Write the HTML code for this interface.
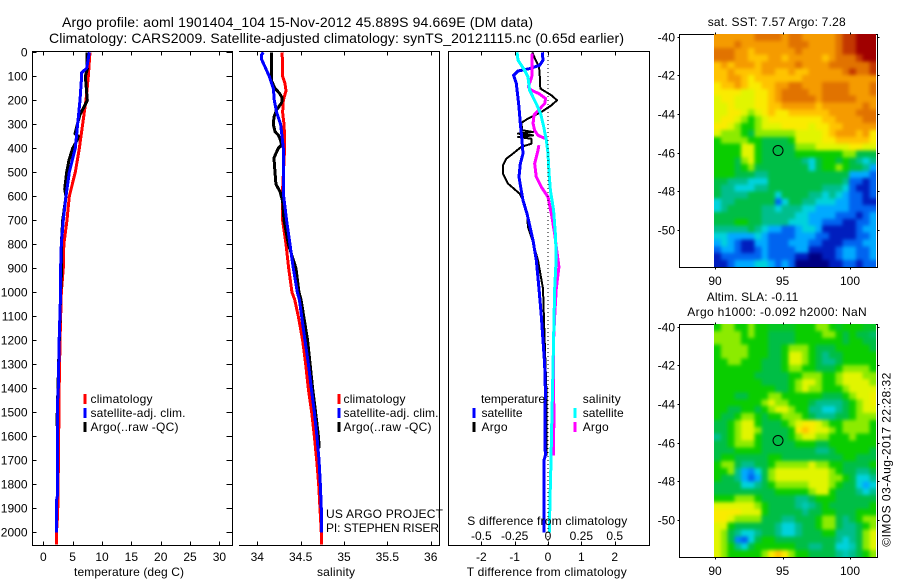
<!DOCTYPE html>
<html lang="en">
<head>
<meta charset="utf-8">
<title>Argo profile chart</title>
<style>
html,body{margin:0;padding:0;background:#fff;}
svg{display:block;font-family:"Liberation Sans",sans-serif;font-size:12px;fill:#000;}
.axis{fill:none;stroke:#000;stroke-width:1;shape-rendering:crispEdges;}
.ttl{font-size:14px;}
</style>
</head>
<body>
<svg id="chart" width="900" height="580" viewBox="0 0 900 580" xmlns="http://www.w3.org/2000/svg">
<defs>
<filter id="smooth" filterUnits="userSpaceOnUse" x="690" y="0" width="210" height="580" color-interpolation-filters="sRGB"><feGaussianBlur stdDeviation="1.9"/></filter>
<clipPath id="clip-m1"><rect x="714" y="34" width="162" height="233"/></clipPath>
<clipPath id="clip-m2"><rect x="714" y="324" width="162" height="233"/></clipPath>
</defs>
<text class="ttl" x="62" y="27" textLength="471">Argo profile: aoml 1901404_104 15-Nov-2012 45.889S 94.669E (DM data)</text>
<text class="ttl" x="49" y="43" textLength="575">Climatology: CARS2009. Satellite-adjusted climatology: synTS_20121115.nc (0.65d earlier)</text>

<g id="p1"></g>
<g id="p2"></g>
<g id="p3"></g>
<g id="m1"></g>
<g id="m2"></g>

<text x="74" y="576" textLength="110">temperature (deg C)</text>
<text x="317" y="576" textLength="38">salinity</text>
<text x="466.7" y="576" textLength="160">T difference from climatology</text>
<text x="467.3" y="525" textLength="160">S difference from climatology</text>

<g>
<rect x="83.5" y="394" width="3" height="10" fill="#f00"/>
<text x="90.5" y="403" textLength="62">climatology</text>
<rect x="83.5" y="408" width="3" height="10" fill="#00f"/>
<text x="90.5" y="417" textLength="95">satellite-adj. clim.</text>
<rect x="83.5" y="422" width="3" height="10" fill="#000"/>
<text x="90.5" y="431" textLength="88">Argo(..raw -QC)</text>
</g>
<g>
<rect x="337.5" y="394" width="3" height="10" fill="#f00"/>
<text x="343.5" y="403" textLength="62">climatology</text>
<rect x="337.5" y="408" width="3" height="10" fill="#00f"/>
<text x="343.5" y="417" textLength="95">satellite-adj. clim.</text>
<rect x="337.5" y="422" width="3" height="10" fill="#000"/>
<text x="343.5" y="431" textLength="88">Argo(..raw -QC)</text>
</g>
<g>
<text x="481" y="403" textLength="64">temperature</text>
<rect x="472.5" y="408" width="3" height="10" fill="#00f"/>
<text x="481.5" y="417" textLength="41">satellite</text>
<rect x="472.5" y="422" width="3" height="10" fill="#000"/>
<text x="481.5" y="431" textLength="26">Argo</text>
<text x="582.7" y="403" textLength="38">salinity</text>
<rect x="573.5" y="408" width="3" height="10" fill="#0ff"/>
<text x="582.7" y="417" textLength="41">satellite</text>
<rect x="573.5" y="422" width="3" height="10" fill="#f0f"/>
<text x="582.7" y="431" textLength="26">Argo</text>
</g>
<text x="326" y="518" textLength="117">US ARGO PROJECT</text>
<text x="326" y="532" textLength="113">PI: STEPHEN RISER</text>

<text x="707.7" y="26" textLength="138">sat. SST: 7.57 Argo: 7.28</text>
<text x="706.7" y="301" textLength="91.6">Altim. SLA: -0.11</text>
<text x="687.3" y="316" textLength="179.4">Argo h1000: -0.092 h2000: NaN</text>
<text transform="translate(890.7,546.7) rotate(-90)" textLength="174">©IMOS 03-Aug-2017 22:28:32</text>
</svg>

<script>
const depthTicks = [0,100,200,300,400,500,600,700,800,900,1000,1100,1200,1300,1400,1500,1600,1700,1800,1900,2000];
const tempTicks = [0,5,10,15,20,25,30];
const salTicks = [34,34.5,35,35.5,36];
const tDiffTicks = [-2,-1,0,1,2];
const tDiffTickLabels = ['-2','-1','0','1','2'];
const sDiffTicks = [-0.5,-0.25,0,0.25,0.5];
const sDiffTickLabels = ['-0.5','-0.25','0','0.25','0.5'];
const lonTicks = [90,95,100];
const latTicks = [-40,-42,-44,-46,-48,-50];

const tempClimDepth = [0,100,200,300,400,500,600,700,800,900,1000,1200,1400,1650,1850,1930,2000,2050];
const tempClim = [7.95,7.67,7.27,6.7,6.14,5.45,4.43,4.03,3.5,3.4,3.07,2.85,2.7,2.6,2.5,2.44,2.24,2.24];
const tempSatDepth = [0,66,85,100,200,300,400,500,600,700,800,900,1000,1200,1400,1450,1850,1870,2000];
const tempSat = [7.84,7.39,6.53,6.53,6.25,5.85,5.45,4.43,3.86,3.4,3.07,2.95,2.95,2.7,2.55,2.45,2.38,2.24,2.24];
const tempArgoDepth = [0,50,70,100,200,220,260,300,340,350,365,400,450,500,570,600,700,800,900,1000,1200,1400,1550,1560,1680];
const tempArgo = [7.44,7.44,7.5,7.16,7.5,7.1,6.25,5.8,5.4,5.97,5.8,5.0,4.37,3.98,3.64,3.86,3.3,3.07,3.13,2.95,2.72,2.5,2.32,2.42,2.42];

const salClimDepth = [0,50,100,130,160,200,250,300,350,400,570,700,800,900,1000,1030,1100,1200,1300,1400,1500,1600,1700,1800,1900,2000,2050];
const salClim = [34.285,34.292,34.292,34.319,34.331,34.3,34.292,34.308,34.315,34.315,34.292,34.292,34.331,34.362,34.4,34.431,34.473,34.523,34.558,34.588,34.627,34.658,34.685,34.708,34.723,34.738,34.738];
const salSatDepth = [0,10,30,60,100,150,200,250,300,350,400,500,600,700,800,900,1000,1030,1200,1300,1400,1500,1600,1700,1800,1900,2000];
const salSat = [34.069,34.05,34.05,34.088,34.138,34.185,34.196,34.223,34.269,34.285,34.3,34.304,34.304,34.338,34.377,34.415,34.462,34.485,34.55,34.59,34.623,34.658,34.688,34.712,34.727,34.738,34.738];
const salArgoDepth = [0,100,120,150,170,190,210,240,270,300,330,345,360,385,400,440,500,550,580,620,700,800,900,1000,1030,1200,1400,1500,1600,1650];
const salArgo = [34.162,34.162,34.165,34.204,34.254,34.288,34.281,34.223,34.192,34.185,34.204,34.242,34.262,34.281,34.242,34.192,34.204,34.215,34.262,34.292,34.308,34.358,34.446,34.481,34.504,34.58,34.638,34.672,34.705,34.715];

const tDiffArgoDepth = [0,33,61,89,151,179,200,221,249,276,294,325,332,339,346,353,360,381,394,422,443,471,506,547,589,631,672,728,783,867,985,1200,1400,1680];
const tDiffArgo = [-0.47,-0.37,-0.27,-0.25,-0.23,0.1,0.27,0.1,-0.2,-0.6,-0.8,-0.77,-0.45,-0.9,-0.45,-0.9,-0.5,-0.5,-0.8,-1.05,-1.25,-1.35,-1.35,-1.2,-0.85,-0.7,-0.63,-0.6,-0.47,-0.3,-0.15,-0.1,-0.05,-0.05];
const tDiffSatDepth = [0,33,54,68,78,96,130,228,297,367,422,464,519,561,617,672,783,867,985,1100,1300,1400,1600,1680,1700,2000];
const tDiffSat = [-0.17,-0.15,-0.25,-0.55,-0.9,-1.03,-0.95,-0.87,-0.83,-0.78,-0.75,-0.83,-0.87,-0.82,-0.75,-0.63,-0.45,-0.35,-0.27,-0.2,-0.1,-0.08,-0.09,-0.08,-0.12,-0.12];
const sDiffArgoDepth = [6,61,103,144,158,172,193,214,235,262,297,325,346,360,361,387,408,464,519,561,603,672,756,811,894,985,1100,1200,1400,1500,1680];
const sDiffArgo = [-0.12,-0.118,-0.122,-0.148,-0.125,-0.068,-0.018,-0.025,-0.062,-0.105,-0.112,-0.1,-0.075,-0.018,null,-0.068,-0.075,-0.1,-0.088,-0.05,0,0.025,0.05,0.062,0.082,0.062,0.05,0.042,0.04,0.045,0.04];
const sDiffSatDepth = [0,33,75,103,158,214,256,311,367,422,506,575,658,756,853,985,1380,1550,1760,1860,2000];
const sDiffSat = [-0.232,-0.225,-0.175,-0.15,-0.138,-0.088,-0.055,-0.032,-0.012,0,0.008,0.018,0.042,0.055,0.062,0.05,0.035,0.028,0.02,0.015,0.01];

const argoLon = 94.669;
const argoLat = -45.889;

const sstGrid = [
[12,12,12,12,12,12,13,13,13,13,12,13,13,12,12,12,12,12,13,14,14,15,15,15],
[12,12,12,13,12,12,12,12,12,12,12,13,13,13,12,12,12,12,13,14,14,15,15,15],
[13,13,13,12,12,11,12,12,12,12,12,12,13,12,12,12,12,12,13,14,14,15,15,15],
[13,13,13,12,12,11,11,11,12,12,11,12,12,12,12,12,11,12,13,13,13,14,15,15],
[11,12,11,12,12,12,11,12,12,12,12,12,13,12,12,12,12,13,13,13,13,13,13,14],
[11,11,12,11,11,11,11,12,12,11,11,12,11,11,12,12,12,12,12,13,14,13,13,14],
[11,11,12,12,11,10,11,11,11,11,11,11,11,12,12,12,12,12,12,12,12,12,12,12],
[10,11,11,12,11,10,10,11,11,12,12,13,13,12,12,12,13,13,13,13,12,12,12,13],
[10,10,10,10,9,9,10,10,11,12,13,13,13,13,12,12,13,13,13,13,12,12,12,13],
[9,10,10,9,9,9,10,10,11,12,13,13,13,13,13,12,13,13,13,13,13,12,12,12],
[9,9,10,9,9,9,10,10,11,11,12,12,12,12,12,11,12,12,12,12,12,12,13,12],
[9,9,10,10,9,8,9,10,11,10,10,11,11,11,11,11,11,12,12,12,12,13,13,13],
[9,10,10,9,8,7,8,9,10,10,10,10,10,10,10,10,11,11,12,12,12,12,13,13],
[10,10,9,8,7,7,8,9,9,9,10,10,10,10,9,10,10,11,11,12,12,12,12,12],
[9,8,8,8,7,6,8,8,8,8,8,8,9,9,9,9,10,11,12,12,12,11,12,10],
[7,8,8,8,8,7,7,6,6,6,6,7,9,9,9,9,10,10,11,11,11,11,11,10],
[7,7,7,7,9,9,7,6,6,6,6,6,8,8,8,9,9,9,9,9,10,10,9,9],
[7,7,7,7,9,9,7,6,6,6,6,6,7,7,7,7,7,7,7,8,8,6,6,6],
[7,7,7,6,8,9,7,6,6,6,6,6,6,5,4,6,7,7,6,7,6,5,4,5],
[7,7,7,6,7,8,6,6,6,6,6,6,6,6,4,6,7,7,8,7,6,6,5,3],
[7,7,7,6,6,6,5,5,6,6,6,6,6,6,6,6,6,6,6,6,3,3,3,2],
[6,6,5,5,5,4,4,4,6,6,6,6,6,6,6,6,6,6,6,5,2,2,1,2],
[6,5,5,4,4,4,5,5,6,6,6,6,6,6,6,6,5,5,5,4,2,1,1,2],
[6,5,5,5,5,6,6,6,6,4,6,6,6,6,5,5,4,5,4,3,2,2,1,2],
[4,5,5,6,6,6,6,6,6,2,4,6,6,5,5,4,4,4,3,3,2,2,1,1],
[4,5,6,6,6,6,6,5,5,4,5,5,5,4,4,3,3,3,3,3,2,2,2,2],
[6,6,6,6,6,6,6,5,5,5,5,5,4,4,3,3,3,3,2,2,2,1,2,3],
[6,6,6,7,7,6,6,5,5,5,5,4,4,4,3,3,2,2,2,1,1,2,2,3],
[5,5,5,5,5,6,5,4,3,3,2,2,3,4,4,3,1,1,1,1,1,2,3,3],
[4,4,3,3,3,3,4,3,2,2,2,2,3,3,3,2,2,1,1,1,1,2,2,3],
[3,4,3,2,1,1,3,3,2,2,2,3,3,3,2,2,1,1,1,2,2,2,3,3],
[2,3,3,2,1,1,2,3,2,2,2,2,3,3,1,1,1,1,2,3,3,2,2,3],
[1,2,2,2,2,2,2,3,2,2,2,2,1,1,0,0,1,1,2,3,3,2,2,3],
[1,1,2,3,3,3,4,4,3,2,3,2,0,0,0,0,0,1,1,2,2,1,2,2]
];

const slaGrid = [
[7,8,8,7,7,8,7,7,6.5,6.5,6.5,6.5,7,7,7,8,8,7,6.5,7,7,7,6.5,6.5],
[8,8,8,8,7,8,7,7,6,6,6,6,7,7,7,7,8,8,7,6,7,6,6,5.5],
[8,8,8,8,7,7,7,7,6,6,6,6,7,7,7,7,7,7,7,6,7,7,6,6],
[7,8,8,8,8,7,7,7,6,6,7,8,8,8,7,6,6,6,7,7,7,7,7,6],
[7,8,8,8,8,7,7,7,6,6,7,9,9,8,7,6,5,6,6,7,7,7,7,7],
[7,7,8,8,7,7,7,6,6,6,7,9,9,8,7,6,5,5,6,7,7,7,7,7],
[7,7,7,7,7,7,7,6,6,6,7,8,8,7,7,6,6,6,7,8,8,8,8,7],
[7,7,7,7,7,7,6,6,6,6,6,7,7,8,8,8,7,7,8,9,9,9,8,8],
[7,7,7,7,7,7,7,6,6,6,6,7,8,9,9,8,7,7,8,9,9,9,9,8],
[7,7,7,7,7,7,7,7,7,6,6,7,8,9,8,8,7,7,7,8,9,9,9,9],
[7,7,7,6,6,7,7,7,8,8,7,7,7,7,7,7,6,6,6,7,8,9,9,9.5],
[7,7,7,7,7,7,7,8,9,8,8,7,7,7,6,5,5,5,5,6,7,8,9,9.5],
[7,7,6,6,7,7,6,7,8,9,9,8,7,7,5,5,4,4,5,6,7,8,9,9],
[7,6,6,7,8,8,7,6,7,7,8,8,8,7,6,5,5,5,6,6,7,8,8,8],
[6,6,7,8,9,9,7,6,6,6,7,8,9,10,10,9,8,7,7,8,8,8,8,7],
[6,6,7,8,9,9,8,6,6,6,6,7,10,11,10,9,9,8,7,8,8,8,8,7],
[5,6,7,8,9,9,7,6,6,6,6,7,8,9,9,8,8,7,7,7,8,7,7,7],
[6,6,7,8,8,8,7,6,6,6,6,6,7,7,7,6,6,7,7,7,7,7,7,7],
[6,6,6,7,7,7,7,6,6,6,6,6,6,6,6,5,5,6,7,7,7,7,7,6],
[6,7,7,6,6,6,6,6,7,7,6,6,6,6,6,6,6,6,6,7,7,6,6,6],
[7,8,8,6,5,5,6,6,7,8,8,8,8,8,9,8,8,7,7,6,6,6,6,7],
[7,7,8,5,3,2.5,4,6,8,9,9,9,9,9,9,9,9,8,7,6,6,5,5,6],
[7,6,6,5,3,2,3,6,8,9,9,9,9,9,9,9,9,8,8,7,6,4,4,5],
[6,6,6,6,4,4,5,6,7,8,8,8,8,8,9,9,9,8,7,6,6,4,3,4],
[6,6,6,6,6,6,6,6,6,7,7,7,7,7,8,9,9,7,6,6,6,5,4,5],
[7,7,7,8,8,8,7,6,6,6,6,6,5,5,6,7,7,7,6,6,6,6,6,6],
[9,9,9,9,9,9,8,7,6,6,6,6,5,4.5,5,6,7,6,6,6,6,6,6,7],
[10,10,10,10,9,9,9,7,6,6,6,6,6,5,6,6,7,7,6,6,6,7,7,7],
[10,10,9,8,8,8,8,6,6,6,5,5,6,6,6,7,8,8,6,5,6,7,8,8],
[9,9,7,6,6,6,6,6,6,5,4,4,5,6,6,7,8,8,6,5,5,6,7,8],
[9,8,6,5,4,4,5,6,6,5,4,4,5,6,6,6,7,7,5,5,5,6,8,9],
[9,8,6,2.5,2,4,6,7,7,6,6,6,6,6,6,6,6,6,5,4,5,6,8,9],
[9,8,7,5,4,6,7,7,7,7,7,7,6,6,5,5,6,6,4,4,4.5,6,8,9],
[9,8,7,7,7,7,7,8,10,11,10,8,7,7,6,6,6,6,5,4.5,5,6,7,8]
];

const NS = 'http://www.w3.org/2000/svg';
const colorStops = [[0,0,130],[0,30,190],[0,100,240],[0,170,255],[0,210,220],[0,190,140],[0,190,70],[10,205,0],[140,235,0],[225,245,0],[250,235,0],[255,195,0],[245,155,0],[225,115,0],[195,55,0],[160,0,0]];

function colorOf(v) {
  const i = Math.min(Math.floor(v), colorStops.length - 2);
  const t = v - i;
  const a = colorStops[i], b = colorStops[i + 1];
  return 'rgb(' + a.map((c, k) => Math.round(c + (b[k] - c) * t)).join(',') + ')';
}

const yD = d => 52.3 + 0.24 * d;
const xT = v => 43.3 + 5.87 * v;
const xS = v => 257.3 + 86.7 * (v - 34);
const xDT = v => 548 + 33.35 * v;
const xDS = v => 548 + 133.4 * v;
const xLon = v => 715 + 13.5 * (v - 90);
const yLat = (v, off) => off + 36.7 + 19.33 * (-40 - v);

function make(tag, parent) {
  const el = document.createElementNS(NS, tag);
  parent.appendChild(el);
  return el;
}

function axisPath(parent, d, name) {
  const el = make('path', parent);
  el.setAttribute('class', 'axis');
  el.setAttribute('d', d);
  
  
}

function label(parent, x, y, str, anchor, name) {
  const el = make('text', parent);
  el.setAttribute('x', x);
  el.setAttribute('y', y);
  el.setAttribute('text-anchor', anchor);
  el.textContent = str;
  
  
}

function profile(parent, depths, vals, xf, color, width, name) {
  let d = '', pen = false;
  depths.forEach((dep, i) => {
    if (vals[i] === null) { pen = false; return; }
    d += (pen ? 'L' : 'M') + xf(vals[i]).toFixed(2) + ' ' + yD(dep).toFixed(2);
    pen = true;
  });
  const el = make('path', parent);
  el.setAttribute('d', d);
  el.setAttribute('fill', 'none');
  el.setAttribute('stroke', color);
  el.setAttribute('stroke-width', width);
  el.setAttribute('stroke-linejoin', 'round');
  el.setAttribute('shape-rendering', 'crispEdges');
  
  
}

const p1 = document.getElementById('p1');
const p2 = document.getElementById('p2');
const p3 = document.getElementById('p3');

profile(p1, tempClimDepth, tempClim, xT, '#f00', 3, 'temperature-climatology-line');
profile(p1, tempArgoDepth, tempArgo, xT, '#000', 3, 'temperature-argo-line');
profile(p1, tempSatDepth, tempSat, xT, '#00f', 3, 'temperature-satellite-line');
axisPath(p1, 'M32.5 51.5H232.5V545.5H32.5Z', 'temperature-frame');
depthTicks.forEach(d => {
  const y = Math.round(yD(d)) + 0.5;
  axisPath(p1, 'M32.5 ' + y + 'H36.5M226.5 ' + y + 'H232.5', 'depth-tick');
  label(p1, 27.5, y + 4, String(d), 'end', 'depth-tick-label');
});
tempTicks.forEach(t => {
  const x = Math.round(xT(t)) + 0.5;
  axisPath(p1, 'M' + x + ' 51.5V55.5M' + x + ' 545.5V541.5', 'temperature-tick');
  label(p1, xT(t), 561, String(t), 'middle', 'temperature-tick-label');
});

profile(p2, salClimDepth, salClim, xS, '#f00', 3, 'salinity-climatology-line');
profile(p2, salArgoDepth, salArgo, xS, '#000', 3, 'salinity-argo-line');
profile(p2, salSatDepth, salSat, xS, '#00f', 3, 'salinity-satellite-line');
axisPath(p2, 'M239 51.5H439.5V545.5H239', 'salinity-frame');
salTicks.forEach(s => {
  const x = Math.round(xS(s)) + 0.5;
  axisPath(p2, 'M' + x + ' 51.5V55.5M' + x + ' 545.5V541.5', 'salinity-tick');
  label(p2, xS(s), 561, String(s), 'middle', 'salinity-tick-label');
});

profile(p3, tDiffArgoDepth, tDiffArgo, xDT, '#000', 2, 't-difference-argo-line');
profile(p3, tDiffSatDepth, tDiffSat, xDT, '#00f', 3, 't-difference-satellite-line');
profile(p3, sDiffArgoDepth, sDiffArgo, xDS, '#f0f', 3, 's-difference-argo-line');
profile(p3, sDiffSatDepth, sDiffSat, xDS, '#0ff', 3, 's-difference-satellite-line');
const zeroLine = make('line', p3);
zeroLine.setAttribute('x1', xDT(0));
zeroLine.setAttribute('x2', xDT(0));
zeroLine.setAttribute('y1', 52);
zeroLine.setAttribute('y2', 545);
zeroLine.setAttribute('stroke', '#000');
zeroLine.setAttribute('stroke-dasharray', '1 3');


axisPath(p3, 'M448.5 51.5H649.5V545.5H448.5Z', 'difference-frame');
tDiffTicks.forEach((t, i) => {
  const x = Math.round(xDT(t)) + 0.5;
  axisPath(p3, 'M' + x + ' 51.5V55.5M' + x + ' 545.5V541.5', 'difference-tick');
  label(p3, xDT(t), 561, tDiffTickLabels[i], 'middle', 't-difference-tick-label');
});
sDiffTicks.forEach((s, i) => {
  label(p3, xDS(s), 540, sDiffTickLabels[i], 'middle', 's-difference-tick-label');
});

function drawMap(id, grid, off, cellName) {
  const g = document.getElementById(id);
  const top = off + 34.1, left = 714, cw = 6.75, ch = 232.7 / grid.length, pad = 10;
  axisPath(g, 'M679.5 ' + (off + 34.5) + 'H877.5V' + (off + 267.5) + 'H679.5Z', 'map-frame');
  const clipGroup = make('g', g);
  clipGroup.setAttribute('clip-path', 'url(#clip-' + id + ')');
  
  
  const cells = make('g', clipGroup);
  cells.setAttribute('filter', 'url(#smooth)');
  
  
  const lastRow = grid.length - 1;
  grid.forEach((row, r) => {
    const lastCol = row.length - 1;
    row.forEach((v, c) => {
      const x0 = left + c * cw - (c === 0 ? pad : 0);
      const x1 = left + (c + 1) * cw + (c === lastCol ? pad : 0.4);
      const y0 = top + r * ch - (r === 0 ? pad : 0);
      const y1 = top + (r + 1) * ch + (r === lastRow ? pad : 0.4);
      const cell = make('rect', cells);
      cell.setAttribute('x', x0.toFixed(2));
      cell.setAttribute('y', y0.toFixed(2));
      cell.setAttribute('width', (x1 - x0).toFixed(2));
      cell.setAttribute('height', (y1 - y0).toFixed(2));
      cell.setAttribute('fill', colorOf(v));
      cell.setAttribute('shape-rendering', 'crispEdges');
      
      
    });
  });
  latTicks.forEach(t => {
    const y = Math.round(yLat(t, off)) + 0.5;
    axisPath(g, 'M677.5 ' + y + 'H679.5M877.5 ' + y + 'H879.5', 'latitude-tick');
    label(g, 675, y + 4, String(t), 'end', 'latitude-tick-label');
  });
  lonTicks.forEach(t => {
    const x = Math.round(xLon(t)) + 0.5;
    axisPath(g, 'M' + x + ' ' + (off + 32.5) + 'V' + (off + 34.5) + 'M' + x + ' ' + (off + 267.5) + 'V' + (off + 269.5), 'longitude-tick');
    label(g, xLon(t), off + 285, String(t), 'middle', 'longitude-tick-label');
  });
  const c = make('circle', g);
  c.setAttribute('cx', xLon(argoLon));
  c.setAttribute('cy', yLat(argoLat, off));
  c.setAttribute('r', 5);
  c.setAttribute('fill', 'none');
  c.setAttribute('stroke', '#000');
  
  
}
drawMap('m1', sstGrid, 0, 'sst-cell');
drawMap('m2', slaGrid, 290, 'sla-cell');
</script>
</body>
</html>
